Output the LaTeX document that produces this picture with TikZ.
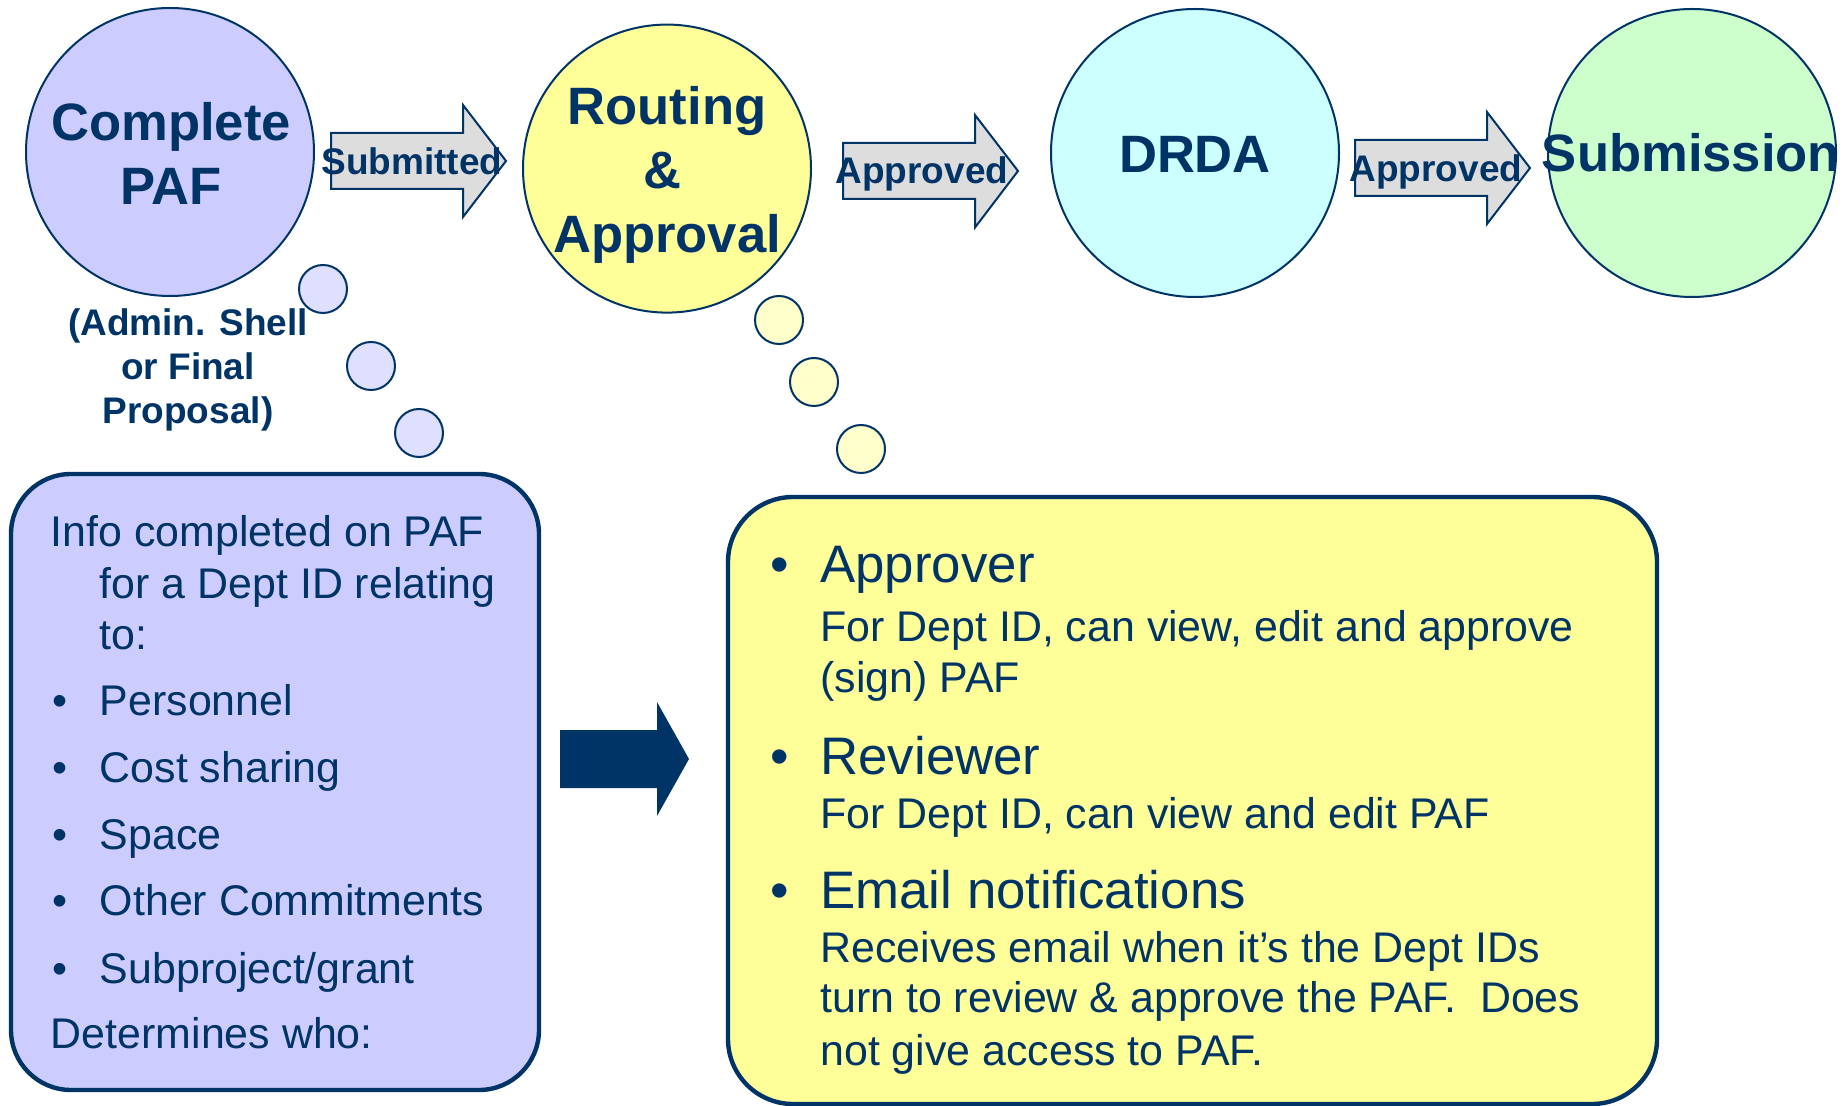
\documentclass[tikz,border=0pt]{standalone}
\usepackage{fontspec}
\setmainfont{Liberation Sans}
\definecolor{navy}{HTML}{003366}
\definecolor{lav}{HTML}{CCCCFF}
\definecolor{lavlight}{HTML}{DFDFFF}
\definecolor{yel}{HTML}{FFFF99}
\definecolor{yellight}{HTML}{FFFFCC}
\definecolor{cyanfill}{HTML}{CCFFFF}
\definecolor{greenfill}{HTML}{CCFFCC}
\definecolor{arrowgray}{HTML}{DDDDDD}
\tikzset{
  body/.style={font=\fontsize{21.45}{25}\selectfont, text=navy, inner sep=0pt, anchor=base west},
  head/.style={font=\fontsize{26.4}{30}\selectfont, text=navy, inner sep=0pt, anchor=base west},
  titletext/.style={font=\bfseries\fontsize{26.3}{30}\selectfont, text=navy, inner sep=0pt, anchor=base},
  albl/.style={font=\bfseries\fontsize{18.5}{22}\selectfont, text=navy, inner sep=0pt, anchor=base},
  stage/.style={circle, draw=navy, line width=1pt, minimum size=144pt, inner sep=0pt},
  bubble/.style={circle, draw=navy, line width=1pt, minimum size=24pt, inner sep=0pt},
  blockarrow/.style={draw=navy, fill=arrowgray, line width=1pt, line join=miter},
  infobox/.style={draw=navy, line width=2.2pt, inner sep=0pt}
}
\begin{document}
\begin{tikzpicture}[x=0.5pt,y=-0.5pt]
\useasboundingbox (0,0) rectangle (1847,1106);

% stage circles
\node[stage, fill=lav] (paf) at (170,152) {};
\node[stage, fill=yel] (route) at (667,168.6) {};
\node[stage, fill=cyanfill] (drda) at (1195,153) {};
\node[stage, fill=greenfill] (subm) at (1692,153) {};

\node[titletext] (pafa) at (171,141) {Complete};
\node[titletext] (pafb) at (171,204.6) {PAF};
\node[titletext] (routea) at (667,125) {Routing};
\node[titletext] (routeb) at (662,188.7) {\&};
\node[titletext] (routec) at (667,253) {Approval};
\node[titletext] (drdat) at (1195,172.8) {DRDA};
\node[titletext] (submt) at (1691,172) {Submission};

% block arrows
\draw[blockarrow] (331,133) -- (463,133) -- (463,105) -- (506,161) -- (463,217) -- (463,189) -- (331,189) -- cycle;
\draw[blockarrow] (843,143) -- (975,143) -- (975,115) -- (1018,171) -- (975,227.5) -- (975,199) -- (843,199) -- cycle;
\draw[blockarrow] (1355,140) -- (1487,140) -- (1487,112) -- (1530,168) -- (1487,224) -- (1487,196) -- (1355,196) -- cycle;
\node[albl] (lsub) at (412,174.6) {Submitted};
\node[albl] (lapp1) at (922,183.4) {Approved};
\node[albl] (lapp2) at (1436,181.6) {Approved};

% admin text
\node[albl] (adm1) at (188,336) {(Admin. Shell};
\node[albl] (adm2) at (188,380) {or Final};
\node[albl] (adm3) at (188,424) {Proposal)};

% thought bubbles
\node[bubble, fill=lavlight] (pb1) at (323,289) {};
\node[bubble, fill=lavlight] (pb2) at (371,366) {};
\node[bubble, fill=lavlight] (pb3) at (419,433) {};
\node[bubble, fill=yellight] (yb1) at (779,320) {};
\node[bubble, fill=yellight] (yb2) at (814,382) {};
\node[bubble, fill=yellight] (yb3) at (861,449) {};

% left info box
\node[infobox, fill=lav, rounded corners=30pt, minimum width=264pt, minimum height=308pt] (lbox) at (275,782) {};
\node[body] (l1) at (50.5,547) {Info completed on PAF};
\node[body] (l2) at (99.5,599) {for a Dept ID relating};
\node[body] (l3) at (99.5,649) {to:};
\node[body] (b1) at (52,715.7) {•};
\node[body] (l4) at (99.5,715.7) {Personnel};
\node[body] (b2) at (52,782.6) {•};
\node[body] (l5) at (99.5,782.6) {Cost sharing};
\node[body] (b3) at (52,849.6) {•};
\node[body] (l6) at (99.5,849.6) {Space};
\node[body] (b4) at (52,915) {•};
\node[body] (l7) at (99.5,915) {Other Commitments};
\node[body] (b5) at (52,983.5) {•};
\node[body] (l8) at (99.5,983.5) {Subproject/grant};
\node[body] (l9) at (50.5,1048) {Determines who:};

% big arrow
\fill[navy] (560,730) -- (657,730) -- (657,702) -- (689,759) -- (657,816) -- (657,788) -- (560,788) -- cycle;

% right info box
\node[infobox, fill=yel, rounded corners=32.5pt, minimum width=464.5pt, minimum height=303.5pt] (rbox) at (1192.5,800.5) {};
\node[head] (rb1) at (770,583) {•};
\node[head] (r1) at (820,583) {Approver};
\node[body] (r2) at (820,641.6) {For Dept ID, can view, edit and approve};
\node[body] (r3) at (820,692.7) {(sign) PAF};
\node[head] (rb2) at (770,774) {•};
\node[head] (r4) at (820,774) {Reviewer};
\node[body] (r5) at (820,828.7) {For Dept ID, can view and edit PAF};
\node[head] (rb3) at (770,908) {•};
\node[head] (r6) at (820,908) {Email notifications};
\node[body] (r7) at (820,962.5) {Receives email when it’s the Dept IDs};
\node[body] (r8) at (820,1012.8) {turn to review \& approve the PAF.\ \ Does};
\node[body] (r9) at (820,1065) {not give access to PAF.};
\end{tikzpicture}
\end{document}
